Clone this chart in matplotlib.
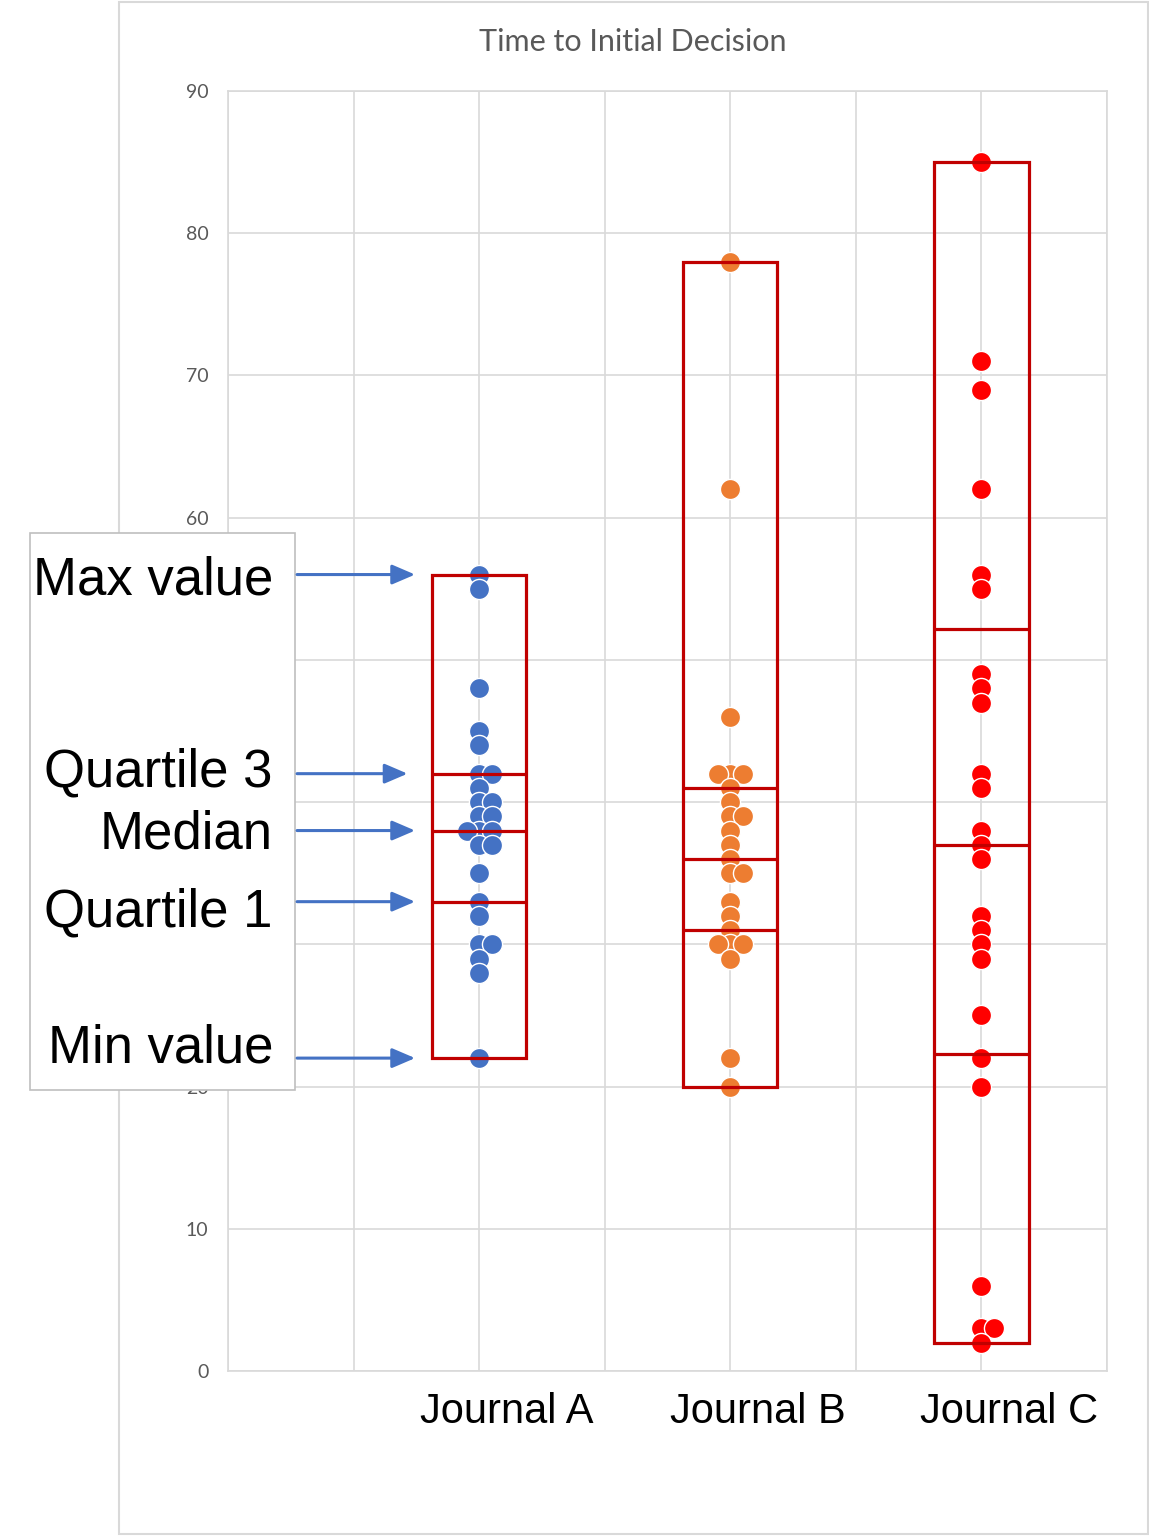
import numpy as np
import matplotlib
matplotlib.use("Agg")
import matplotlib.pyplot as plt
from matplotlib.patches import Rectangle
from matplotlib.transforms import blended_transform_factory

# -------------------------------------------------------------------
# Veriler
# -------------------------------------------------------------------
journals = ["Journal A", "Journal B", "Journal C"]
positions = [2, 4, 6]

journal_a = [56, 55, 48, 45, 44, 42, 42, 41, 40, 40, 39, 39, 38, 38, 38,
             37, 37, 35, 33, 32, 30, 30, 29, 28, 22]
journal_b = [78, 62, 46, 42, 42, 42, 41, 40, 39, 39, 38, 37, 36, 35, 35,
             33, 32, 31, 30, 30, 30, 29, 22, 20]
journal_c = [85, 71, 69, 62, 56, 55, 49, 48, 47, 42, 41, 38, 37, 36, 32,
             31, 30, 29, 25, 22, 20, 6, 3, 3, 2]

# kutu çizgileri (resimdeki elle çizilmiş kutulardan okundu)
box_min = [22, 20, 2]
box_q1 = [33, 31, 22.3]
box_median = [38, 36, 37]
box_q3 = [42, 41, 52.2]
box_max = [56, 78, 85]

dot_colors = ["#4472C4", "#ED7D31", "#FF0000"]
box_color = "#C00000"
arrow_color = "#4472C4"
grid_color = "#D9D9D9"
text_gray = "#595959"

labels_left = ["Max value", "Quartile 3", "Median", "Quartile 1", "Min value"]


def swarm_offsets(values, step=0.1):
    # aynı değer tekrar ederse: orta, sağ, sol, ...
    sira = [0, 1, -1, 2, -2]
    seen = {}
    out = []
    for v in values:
        k = seen.get(v, 0)
        seen[v] = k + 1
        out.append(sira[k] * step)
    return np.array(out)


fig = plt.figure(figsize=(11.49, 15.36), dpi=100)

# dış çerçeve (eksenlerin altında kalsın)
fig.patches.append(Rectangle((119 / 1149, 2 / 1536), 1029 / 1149, 1532 / 1536,
                             transform=fig.transFigure, fill=False,
                             edgecolor=grid_color, linewidth=1.5, zorder=-1))

ax = fig.add_axes([228 / 1149, 1 - 1371 / 1536, 879 / 1149, 1280 / 1536])
ax.patch.set_alpha(0)

ax.set_xlim(0, 7)
ax.set_ylim(0, 90)
ax.set_xticks(range(0, 8))
ax.set_yticks(range(0, 91, 10))
ax.grid(True, color=grid_color, linewidth=1.2)
ax.set_axisbelow(True)
for sp in ax.spines.values():
    sp.set_color(grid_color)
    sp.set_linewidth(1.2)
ax.tick_params(length=0, labelbottom=False)
ax.tick_params(axis="y", pad=14, labelsize=14, labelcolor=text_gray)
for lab in ax.get_yticklabels():
    lab.set_fontfamily("Lato")

# noktalar
for pos, vals, col in zip(positions, [journal_a, journal_b, journal_c], dot_colors):
    vals = np.array(vals)
    xs = pos + swarm_offsets(vals)
    ax.scatter(xs, vals, s=210, color=col, edgecolor="white", linewidth=1.0, zorder=3)

# kutular
half = 0.375
for i, pos in enumerate(positions):
    ax.add_patch(Rectangle((pos - half, box_min[i]), 2 * half, box_max[i] - box_min[i],
                           fill=False, edgecolor=box_color, linewidth=2.3, zorder=4))
    for yv in (box_q1[i], box_median[i], box_q3[i]):
        ax.plot([pos - half, pos + half], [yv, yv], color=box_color, linewidth=2.3,
                zorder=4, solid_capstyle="butt")

# dergi isimleri
for pos, name in zip(positions, journals):
    ax.text(pos + 0.22, -1.5, name, ha="center", va="top", fontsize=30,
            family="Liberation Sans", color="black")

# sol taraftaki açıklama kutusu
ax.add_patch(Rectangle((30 / 1149, 1 - 1090 / 1536), 265 / 1149, 557 / 1536,
                       transform=fig.transFigure, facecolor="white",
                       edgecolor="#BFBFBF", linewidth=1.2, zorder=10, clip_on=False))

tr = blended_transform_factory(fig.transFigure, ax.transData)
arrow_y = [box_max[0], box_q3[0], box_median[0], box_q1[0], box_min[0]]
text_shift = [-0.4, 0.1, -0.3, -0.75, 0.7]
for lab, yv, dy in zip(labels_left, arrow_y, text_shift):
    ax.text(273 / 1149, yv + dy, lab, transform=tr, ha="right", va="center",
            fontsize=38, family="Liberation Sans", color="black", zorder=11)
    tip = 1.43 if lab == "Quartile 3" else 1.49
    ax.annotate("", xy=(tip, yv), xytext=(0.55, yv),
                arrowprops=dict(arrowstyle="-|>,head_length=0.7,head_width=0.3",
                                color=arrow_color, lw=2.2, mutation_scale=20,
                                shrinkA=0, shrinkB=0),
                annotation_clip=False, zorder=11)

# başlık
fig.text(633 / 1149, 1 - 42 / 1536, "Time to Initial Decision", ha="center", va="center",
         fontsize=22, family="Lato", color=text_gray)

fig.savefig("out.png", dpi=100)
